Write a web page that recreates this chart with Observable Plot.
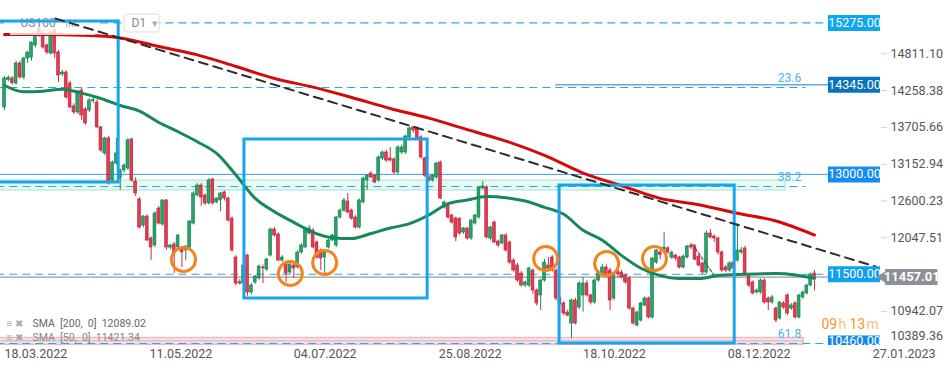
<!DOCTYPE html>
<html><head><meta charset="utf-8">
<script src="https://cdn.jsdelivr.net/npm/d3@7"></script>
<script src="https://cdn.jsdelivr.net/npm/@observablehq/plot@0.6"></script>
<style>body{margin:0;background:#fff;font-family:Roboto,sans-serif}#chart{width:949px;height:370px}</style>
</head><body><div id="chart"></div>
<script>
// ---- daily OHLC (US100, D1) ----
const O=[14005,14420,14440,14365,14665,14455,14740,14755,14936,15180,15116,14936,14816,15161,14831,14500,14530,14365,14020,13930,14260,13975,13960,14100,14080,13705,13314,13540,12908,13163,12938,13058,13088,13525,12893,12623,12232,12367,12037,11932,12487,12247,12608,11900,11947,11902,11887,11857,11902,12262,12683,12833,12683,12563,12923,12578,12608,12728,12638,12337,11751,11380,11361,11781,11226,11376,11436,11601,11571,11781,12172,12097,11706,11661,11526,11631,11601,11827,11902,12112,12157,11977,11857,11751,11902,12007,11932,12352,12457,12593,12457,12352,12202,12578,12908,13013,12983,12908,13239,13329,13239,13223,13028,13329,13329,13555,13705,13690,13555,13240,12953,12908,12953,13178,12502,12533,12382,12337,12330,12127,12187,12037,12262,12352,12788,12803,12037,12277,11992,11962,12082,11977,11706,11631,11511,11331,11331,11556,11256,11181,11406,11631,11751,11556,11136,11061,10925,10760,11106,11000,11181,11361,11181,11076,11406,11481,11601,11556,11136,11540,11526,11481,11436,10985,10730,10805,11031,11136,10850,11676,11827,11857,11890,11751,11781,11751,11601,11751,11932,11917,11766,11661,11526,12112,12067,12037,11827,11601,11556,11676,11706,11827,11887,11466,11376,11226,11226,11406,11136,11076,10985,10835,11061,11181,10985,11061,10850,11151,11211,11331,11511];
const H=[14470,14480,14470,14700,14700,14760,14850,14990,15110,15270,15160,14960,15150,15200,14860,14560,14560,14400,14060,14260,14290,14000,14140,14150,14120,13720,13560,13570,13200,13540,13080,13160,13540,13540,12950,12650,12380,12390,12060,12440,12520,12620,12620,11950,11980,12100,11900,11930,12310,12740,12860,12860,12700,12940,12940,12650,12730,12750,12660,12360,11780,11420,11660,11800,11360,11480,11640,11640,11740,12190,12200,12120,11780,11700,11680,11660,11860,11960,12210,12230,12190,12000,11880,11850,12030,12100,12370,12480,12640,12713,12480,12380,12630,12960,12990,13040,13000,13280,13350,13360,13404,13250,13430,13440,13590,13710,13720,13710,13580,13260,12990,13000,13180,13200,12600,12560,12400,12360,12350,12200,12200,12320,12400,12810,12893,12830,12220,12300,12010,12100,12110,12000,11730,11660,11540,11400,11610,11580,11280,11430,11720,11750,11780,11580,11160,11090,10960,11130,11140,11390,11450,11400,11200,11430,11560,11650,11640,11590,11500,11580,11560,11500,11460,11010,10950,11080,11160,11160,11750,11870,11900,12127,11910,11850,11800,11770,11790,11930,11960,11950,11790,11680,12150,12170,12090,12060,11850,11630,11690,11720,12262,11900,11920,11490,11400,11280,11430,11430,11160,11180,11010,11090,11090,11210,11060,11090,11200,11250,11350,11520,11560];
const L=[13960,14390,14340,14340,14430,14420,14665,14700,14900,15060,14880,14800,14790,14740,14380,14470,14130,13990,13900,13900,13810,13740,13930,14060,13690,13330,13280,12840,12880,13140,12760,13020,13060,12880,12668,12180,12200,11990,11706,11900,12240,12220,11860,11870,11510,11870,11601,11706,11870,12240,12660,12520,12530,12540,12540,12560,12440,12600,12280,11830,11330,11340,11340,11170,11190,11350,11410,11361,11540,11760,12060,11690,11680,11376,11500,11436,11580,11800,11880,12090,11880,11730,11556,11481,11880,11990,11900,12330,12430,12410,12310,12180,12180,12560,12758,12940,12860,12880,13210,13180,13190,13000,13000,13300,13300,13530,13620,13510,13230,12950,12880,12880,12930,12620,12480,12330,12250,11990,12080,12100,12010,12010,12240,12330,12770,12030,12000,11960,11900,11940,11830,11650,11530,11380,11310,11300,11300,11200,11020,10955,11380,11560,11530,11100,11020,10880,10860,10530,10740,10970,10930,11160,11040,11050,11380,11460,11450,10955,11100,11440,11430,11350,10960,10740,10710,10780,11010,10830,10830,11650,11720,11830,11800,11720,11700,11580,11580,11730,11870,11700,11610,11500,11500,12030,11980,11790,11530,11520,11530,11560,11680,11800,11480,11300,11190,11200,11200,11050,10955,11050,10770,10810,10970,10880,10960,10830,10830,11120,11190,11310,11250];
const C=[14440,14450,14370,14665,14455,14740,14830,14980,15086,15090,14906,14831,15131,14816,14485,14530,14155,14005,13930,14230,13885,13765,14110,14115,13705,13359,13540,12863,13178,13314,13058,13133,13510,12908,12713,12202,12367,12007,11902,12412,12262,12608,11902,11932,11811,12082,11830,11917,12292,12713,12833,12653,12563,12908,12563,12638,12713,12638,12307,11857,11361,11360,11631,11226,11331,11466,11616,11590,11721,12172,12082,11706,11751,11511,11646,11586,11827,11932,12187,12187,11902,11751,11736,11827,12007,12082,12352,12457,12608,12427,12337,12202,12608,12938,12983,12953,12878,13254,13329,13208,13208,13028,13404,13404,13570,13690,13660,13540,13254,12980,12908,12983,13163,12638,12578,12352,12277,12052,12112,12187,12037,12307,12382,12803,12818,12052,12202,11977,11932,12082,11857,11676,11556,11406,11331,11376,11586,11256,11061,11406,11676,11586,11556,11136,11050,10910,10880,11106,10760,11361,11361,11181,11076,11406,11511,11601,11481,11106,11481,11500,11451,11376,10985,10760,10925,11061,11136,10850,11736,11857,11790,11900,11827,11820,11736,11601,11766,11917,11902,11720,11631,11526,12112,12052,12037,11827,11556,11556,11661,11586,11857,11857,11511,11331,11211,11256,11406,11076,11076,11151,10805,11076,11000,10910,11031,10850,11181,11226,11331,11496,11457];

// ---- moving averages ----
const sma200Idx=[0,10,20,30,40,50,60,70,80,90,100,110,120,130,140,150,160,170,180,190,200,210];
const sma200Val=[15101,15101,15090,15050,14920,14795,14620,14440,14310,14155,13990,13845,13672,13500,13285,13020,12830,12640,12545,12415,12300,12089];
const sma50Idx=[0,5,10,15,20,25,30,35,40,45,50,55,60,65,70,75,80,85,90,95,100,105,110,115,120,125,130,135,140,145,150,155,160,165,170,175,180,185,190,195,200,205,210];
const sma50Val=[14335,14240,14250,14280,14220,14140,14035,13950,13780,13640,13490,13314,12990,12640,12440,12280,12130,12050,12037,12112,12195,12260,12390,12560,12615,12668,12650,12600,12505,12400,12160,12010,11780,11590,11480,11436,11436,11481,11495,11505,11510,11490,11440];

// ---- axes ----
const dateTickIdx=[0,37.6,75,112.6,150,187.5,225.1];
const dateTickLabels=["18.03.2022","11.05.2022","04.07.2022","25.08.2022","18.10.2022","08.12.2022","27.01.2023"];
const priceTicks=[14811.10,14258.38,13705.66,13152.94,12600.23,12047.51,10942.07];
const lowTick=[10389.36];

// ---- drawings ----
const levelPrices=[15275,14345,13000,11500,10460];
const levelColors=["#0ea6ee","#0a74ba","#168cf0","#10a0ee","#1489ea"];
const lastPrice=11457.01;
const sma200Last=12089.02, sma50Last=11421.34;
const boxX1=[-3,62.2,143.9], boxX2=[29.6,109.7,189.3], boxTop=[15296,13524,12833], boxBottom=[12878,11136,10460];
const circleIdx=[46.4,74.1,83.0,140.3,156.1,168.5];
const circlePrice=[11721,11511,11676,11736,11661,11736];
const trendIdx=[13.2,225.8], trendPrice=[15341,11616];
const miniIdx=[178.4,183.8], miniPrice=[11947,11496];
const fibNames=["23.6","38.2","61.8"], fibPrice=[14305,12818,10540];
const countdown=[["09","#f7941d"],["h","#fbbd77"],["13","#f7941d"],["m","#fbbd77"]];

const candles=O.map((o,i)=>({i,o,h:H[i],l:L[i],c:C[i]}));
const up=d=>d.c>=d.o;
const sma200=sma200Idx.map((i,k)=>({i,v:sma200Val[k]}));
const sma50=sma50Idx.map((i,k)=>({i,v:sma50Val[k]}));
const boxes=boxX1.map((x1,k)=>({x1,x2:boxX2[k],t:boxTop[k],b:boxBottom[k]}));
const circles=circleIdx.map((i,k)=>({i,p:circlePrice[k]}));
const trend=trendIdx.map((i,k)=>({i,p:trendPrice[k]}));
const mini=miniIdx.map((i,k)=>({i,p:miniPrice[k]}));
const levels=levelPrices.map((p,k)=>({p,col:levelColors[k]}));
const XR=227.1; // right edge of price pane (index units)
const note=(t,o)=>Plot.text([t],{text:d=>d,...o});
const cdOffsets=[-59,-42,-31,-14];

const chart=Plot.plot({
  width:949,height:370,marginLeft:0,marginRight:69,marginTop:0,marginBottom:25,
  style:{fontFamily:"Roboto, sans-serif",background:"#fff",overflow:"visible"},
  x:{domain:[-1.04,XR],axis:null},
  y:{domain:[10430,15611.6],axis:null},
  marks:[
    // bands
    Plot.rect([0],{x1:-2,x2:202.5,y1:12758,y2:12908,fill:"#e9f9f3",stroke:"#9fe6cb",strokeWidth:1}),
    Plot.rect([0],{x1:-2,x2:207.2,y1:10440,y2:10545,fill:"#fbdcdf",stroke:"#f4aaaf",strokeWidth:1}),
    Plot.ruleY([10500],{x1:-2,x2:207.2,stroke:"#b4c0dc",strokeWidth:1}),
    // level lines
    Plot.ruleY([15275],{x1:-2,x2:213.6,stroke:"#2aa9ea",strokeWidth:1.2,strokeDasharray:"8,5"}),
    Plot.ruleY([fibPrice[0]],{x1:-2,x2:207.8,stroke:"#2aa9ea",strokeWidth:1.2,strokeDasharray:"8,5"}),
    Plot.ruleY([14345],{x1:142.9,x2:XR,stroke:"#1a7cc4",strokeWidth:1}),
    Plot.ruleY([13000],{x1:-2,x2:XR,stroke:"#3a9ee6",strokeWidth:1}),
    Plot.ruleY([fibPrice[1]],{x1:-2,x2:207.8,stroke:"#2aa9ea",strokeWidth:1.2,strokeDasharray:"8,5"}),
    Plot.ruleY([11500],{x1:-2,x2:213.6,stroke:"#2aa9ea",strokeWidth:1.2,strokeDasharray:"8,5"}),
    Plot.ruleY([10460],{x1:-2,x2:213.6,stroke:"#2aa9ea",strokeWidth:1.2,strokeDasharray:"8,5"}),
    Plot.ruleY([lastPrice],{x1:-2,x2:XR,stroke:"#9a9a9a",strokeWidth:1.2}),
    // candles
    Plot.ruleX(candles,{x:"i",y1:"l",y2:"h",stroke:d=>up(d)?"#1c8a55":"#cf2b40",strokeWidth:1}),
    Plot.rect(candles,{x1:d=>d.i-0.37,x2:d=>d.i+0.37,y1:"o",y2:"c",fill:d=>up(d)?"#27a567":"#e63a50",stroke:d=>up(d)?"#177a48":"#b3243a",strokeWidth:0.6}),
    // moving averages
    Plot.line(sma50,{x:"i",y:"v",stroke:"#16885a",strokeWidth:3,curve:"monotone-x"}),
    Plot.line(sma200,{x:"i",y:"v",stroke:"#d40a0a",strokeWidth:3,curve:"monotone-x"}),
    // translucent header background
    Plot.rect([0],{x1:1.55,x2:23.6,y1:15086,y2:15386,fill:"#fff",fillOpacity:0.78}),
    note("US100",{frameAnchor:"top-left",dx:20,dy:23,lineAnchor:"middle",textAnchor:"start",fill:"#8a8a8a",fontSize:12}),
    note("ılıl",{frameAnchor:"top-left",dx:65,dy:23,lineAnchor:"middle",textAnchor:"start",fill:"#aaa",fontSize:11}),
    Plot.rect([0],{x1:31.1,x2:40.2,y1:15131,y2:15401,rx:3,fill:"#fff",stroke:"#dcdcdc"}),
    note("D1",{frameAnchor:"top-left",dx:131,dy:23,lineAnchor:"middle",textAnchor:"start",fill:"#8a8a8a",fontSize:12}),
    note("▾",{frameAnchor:"top-left",dx:151,dy:23,lineAnchor:"middle",fill:"#aaa",fontSize:11}),
    // drawings
    Plot.rect(boxes,{x1:"x1",x2:"x2",y1:"b",y2:"t",fill:"none",stroke:"#17a6ee",strokeWidth:3}),
    Plot.line(trend,{x:"i",y:"p",stroke:"#2d2d2d",strokeWidth:2,strokeDasharray:"9,6"}),
    Plot.line(mini,{x:"i",y:"p",stroke:"#555",strokeWidth:1.2,strokeDasharray:"3,2"}),
    Plot.dot(circles,{x:"i",y:"p",r:12,stroke:"#f5821f",strokeWidth:3,fill:"none"}),
    Plot.text(fibNames,{x:203.5,y:(d,k)=>fibPrice[k]+[135,135,60][k],text:d=>d,fill:"#45b3ec",fontSize:12}),
    // level labels
    Plot.ruleY(levels,{y:"p",x1:213.6,x2:XR,stroke:"col",strokeWidth:16,clip:true}),
    Plot.text(levels.slice(0,4),{y:"p",x:220.35,text:d=>d.p.toFixed(2),fill:"#fff",fontSize:12.5}),
    Plot.text(levels.slice(4),{y:"p",x:220.35,dy:-3,text:d=>d.p.toFixed(2),fill:"#fff",fontSize:12.5}),
    // current price label
    Plot.ruleY([lastPrice],{x1:228.4,x2:242,stroke:"#8b9196",strokeWidth:16}),
    Plot.dot([lastPrice],{x:228.3,y:d=>d,symbol:"triangle",r:6,fill:"#8b9196",rotate:-90}),
    Plot.text([lastPrice],{x:235.2,y:d=>d,text:d=>d.toFixed(2),fill:"#fff",fontSize:13,fontWeight:"bold"}),
    // right axis
    Plot.ruleY(priceTicks,{x1:XR+0.4,x2:XR+1.9,stroke:"#cfcfcf"}),
    Plot.text(priceTicks,{x:XR,y:d=>d,dx:10,textAnchor:"start",text:d=>d.toFixed(2),fill:"#555",fontSize:12.5}),
    Plot.text(lowTick,{x:XR,frameAnchor:"bottom",dx:10,dy:-6,textAnchor:"start",text:d=>d.toFixed(2),fill:"#555",fontSize:12.5}),
    // date axis
    Plot.text(dateTickIdx,{x:d=>d,frameAnchor:"bottom",dy:8,textAnchor:"start",lineAnchor:"middle",text:(d,k)=>dateTickLabels[k],fill:"#555",fontSize:12.5}),
    // legend
    note("≡ ✖",{frameAnchor:"bottom-left",dx:6,dy:-22,textAnchor:"start",lineAnchor:"middle",fill:"#aaa",fontSize:10}),
    note(`SMA  [200,  0]  ${sma200Last.toFixed(2)}`,{frameAnchor:"bottom-left",dx:32,dy:-22,textAnchor:"start",lineAnchor:"middle",fill:"#666",fontSize:10.5}),
    note("≡ ✖",{frameAnchor:"bottom-left",dx:6,dy:-8,textAnchor:"start",lineAnchor:"middle",fill:"#aaa",fontSize:10}),
    note(`SMA  [50,  0]  ${sma50Last.toFixed(2)}`,{frameAnchor:"bottom-left",dx:32,dy:-8,textAnchor:"start",lineAnchor:"middle",fill:"#888",fontSize:10.5}),
    // countdown
    ...countdown.map(([t,col],k)=>note(t,{frameAnchor:"bottom-right",dx:cdOffsets[k],dy:-21,textAnchor:"start",lineAnchor:"middle",fill:col,fontSize:14}))
  ]
});
document.getElementById("chart").append(chart);
</script>
</body></html>
